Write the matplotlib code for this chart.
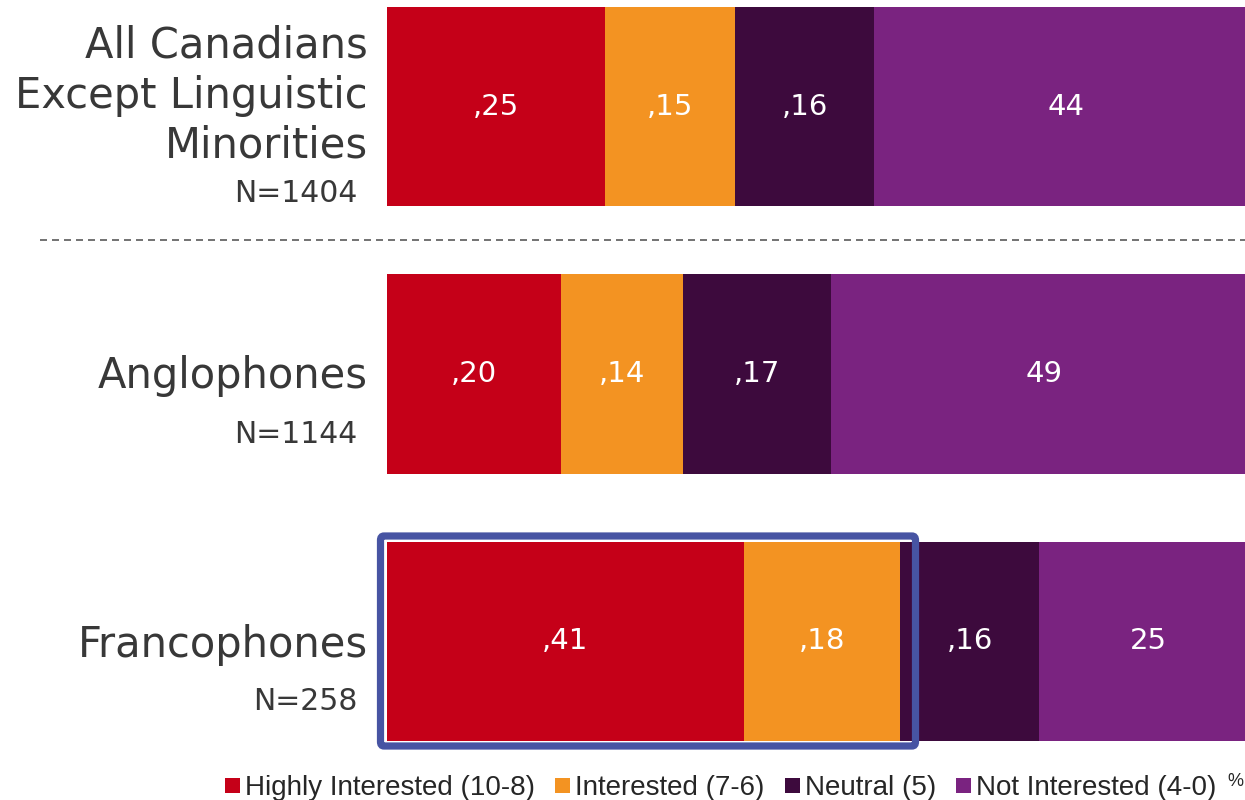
import matplotlib
matplotlib.use("Agg")
import matplotlib.pyplot as plt
from matplotlib.patches import FancyBboxPatch, Rectangle
from matplotlib.lines import Line2D

# ---- data ----
groups = ["All Canadians\nExcept Linguistic\nMinorities", "Anglophones", "Francophones"]
sample_sizes = ["N=1404", "N=1144", "N=258"]
series_names = ["Highly Interested (10-8)", "Interested (7-6)", "Neutral (5)", "Not Interested (4-0)"]
highly_interested = [25, 20, 41]
interested = [15, 14, 18]
neutral = [16, 17, 16]
not_interested = [44, 49, 25]
highlight_group = 2          # Francophones
highlight_series = 2         # first two segments boxed

series_values = [highly_interested, interested, neutral, not_interested]
colors = ["#c50018", "#f39322", "#3d0a3d", "#7a2380"]

W, H = 1245, 800
fig = plt.figure(figsize=(W / 100, H / 100), dpi=100)
fig.patch.set_facecolor("white")

# ---- geometry (pixels) ----
ax_left = 387
px_per_unit = 8.7
row_top = 107
row_step = 267

ax = fig.add_axes([ax_left / W, 0, 1 - ax_left / W, 1])
ax.set_xlim(0, (W - ax_left) / px_per_unit)
ax.set_ylim((H - row_top) / row_step, -row_top / row_step)
ax.axis("off")

bar_h = 199 / row_step
rows = list(range(len(groups)))
left = [0] * len(groups)
for s, (vals, col) in enumerate(zip(series_values, colors)):
    ax.barh(rows, vals, left=left, height=bar_h, color=col, edgecolor="none", zorder=2)
    for r, v in enumerate(vals):
        lab = f",{v}" if s < len(series_values) - 1 else f"{v}"
        ax.text(left[r] + v / 2, r, lab, ha="center", va="center", color="white",
                fontsize=21, family="DejaVu Sans", zorder=3)
    left = [l + v for l, v in zip(left, vals)]

# ---- highlight box around the Francophones' interested share ----
box_right = sum(series_values[s][highlight_group] for s in range(highlight_series))
pad_x = 6.5 / px_per_unit
pad_y = 5.5 / row_step
box = FancyBboxPatch((-pad_x, highlight_group - bar_h / 2 - pad_y),
                     box_right + 2 * pad_x + 1.0, bar_h + 2 * pad_y,
                     boxstyle="round,pad=0,rounding_size=0.4",
                     fill=False, edgecolor="#4754a3", linewidth=5.2,
                     clip_on=False, zorder=5, mutation_aspect=0.04)
ax.add_patch(box)

# ---- dashed separator under the first group ----
fig.add_artist(Line2D([40 / W, 1.0], [1 - 240 / H, 1 - 240 / H], color="#5a5a5a",
                      linewidth=1.2, dashes=(4.2, 3.0)))

# ---- group labels ----
label_color = "#383838"
name_baselines = [[58, 108, 158], [388], [657]]
n_baselines = [202, 443, 710]
for g, name in enumerate(groups):
    for line, yb in zip(name.split("\n"), name_baselines[g]):
        fig.text(368 / W, 1 - yb / H, line, ha="right", va="baseline",
                 fontsize=30, color=label_color, family="DejaVu Sans")
    fig.text(357 / W, 1 - n_baselines[g] / H, sample_sizes[g], ha="right", va="baseline",
             fontsize=21.5, color=label_color, family="DejaVu Sans")

# ---- legend along the bottom ----
square_x = [225, 555, 785, 956]
for x0, name, col in zip(square_x, series_names, colors):
    fig.add_artist(Rectangle((x0 / W, 1 - 793 / H), 15 / W, 15 / H, facecolor=col,
                             edgecolor="none", transform=fig.transFigure))
    fig.text((x0 + 20) / W, 1 - 795 / H, name, ha="left", va="baseline",
             fontsize=20, color="#262626", family="Liberation Sans")
fig.text(1227 / W, 1 - 786 / H, "%", ha="left", va="baseline",
         fontsize=13, color="#262626", family="Liberation Sans")

fig.savefig("out.png", dpi=100, facecolor="white")
